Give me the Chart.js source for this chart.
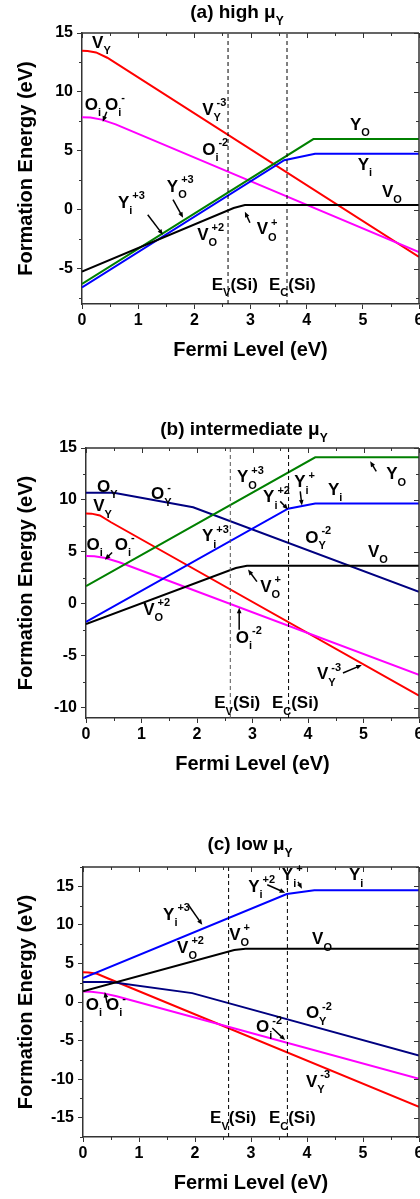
<!DOCTYPE html>
<html lang="en">
<head>
<meta charset="UTF-8">
<title>Formation energy vs Fermi level</title>
<script src="https://cdn.jsdelivr.net/npm/chart.js@4"></script>
<style>
  body { margin: 0; background: #fff; }
  #wrap { position: relative; width: 420px; height: 1199px; overflow: hidden; }
  canvas { position: absolute; left: 0; }
</style>
</head>
<body>
<div id="wrap">
  <canvas id="panelA" width="420" height="380" style="top:0px"></canvas>
  <canvas id="panelB" width="420" height="400" style="top:380px"></canvas>
  <canvas id="panelC" width="420" height="419" style="top:780px"></canvas>
</div>
<script>
// ---- data (Fermi level in eV, formation energy in eV) ----
const fermiTicks = [0, 1, 2, 3, 4, 5, 6];
const bandEdges = [2.6, 3.65];   // E_V(Si), E_C(Si)

// (a) high mu_Y
const highTicks = [-5, 0, 5, 10, 15];
const highVY = [[0, 13.5], [0.1, 13.48], [0.25, 13.35], [0.45, 12.9], [6, -4.0]];
const highOi = [[0, 7.85], [0.15, 7.82], [0.35, 7.65], [0.6, 7.25], [6, -3.6]];
const highYO = [[0, -6.3], [4.12, 6.0], [6, 6.0]];
const highYi = [[0, -6.6], [3.6, 4.2], [4.15, 4.75], [6, 4.75]];
const highVO = [[0, -5.25], [2.7, 0.15], [2.9, 0.4], [6, 0.4]];

// (b) intermediate mu_Y
const midTicks = [-10, -5, 0, 5, 10, 15];
const midOY = [[0, 10.7], [0.5, 10.7], [1.93, 9.3], [6, 1.15]];
const midVY = [[0, 8.7], [0.1, 8.68], [0.25, 8.5], [0.45, 7.85], [6, -8.85]];
const midOi = [[0, 4.6], [0.15, 4.57], [0.35, 4.4], [0.6, 4.0], [6, -6.85]];
const midYO = [[0, 1.7], [4.13, 14.1], [6, 14.1]];
const midYi = [[0, -1.75], [3.64, 9.15], [4.13, 9.65], [6, 9.65]];
const midVO = [[0, -1.95], [2.7, 3.45], [2.9, 3.67], [6, 3.67]];

// (c) low mu_Y
const lowTicks = [-15, -10, -5, 0, 5, 10, 15];
const lowYi = [[0, 3.1], [3.64, 14.0], [4.13, 14.5], [6, 14.5]];
const lowVO = [[0, 1.4], [2.7, 6.75], [2.9, 6.9], [6, 6.9]];
const lowVY = [[0, 3.85], [0.1, 3.83], [0.25, 3.65], [0.45, 3.05], [6, -13.6]];
const lowOY = [[0, 2.6], [0.5, 2.6], [1.95, 1.15], [6, -6.95]];
const lowOi = [[0, 1.35], [0.15, 1.32], [0.35, 1.15], [0.6, 0.75], [6, -9.95]];

// ---- annotations: [text, x, y] and arrows [x1, y1, x2, y2] in data units ----
const highLabels = [
  ['V_{Y}', 0.18, 13.73], ['O_{i}', 0.05, 8.47], ['O_{i}^{-}', 0.41, 8.47],
  ['V_{Y}^{-3}', 2.14, 8.05], ['O_{i}^{-2}', 2.14, 4.66], ['Y_{O}', 4.77, 6.78],
  ['Y_{i}', 4.91, 3.39], ['V_{O}', 5.34, 1.1], ['Y_{O}^{+3}', 1.51, 1.53],
  ['Y_{i}^{+3}', 0.64, 0.17], ['V_{O}^{+2}', 2.05, -2.54], ['V_{O}^{+}', 3.11, -2.1],
  ['E_{V}(Si)', 2.31, -6.78], ['E_{C}(Si)', 3.33, -6.78]
];
const highArrows = [
  [0.44, 8.31, 0.37, 7.46], [1.62, 0.85, 1.80, -0.68],
  [1.17, -0.42, 1.44, -2.12], [2.99, -1.10, 2.90, -0.17]
];
const midLabels = [
  ['O_{Y}', 0.2, 10.8], ['O_{Y}^{-}', 1.17, 10.05], ['V_{Y}', 0.13, 8.9],
  ['O_{i}', 0.01, 5.2], ['O_{i}^{-}', 0.52, 5.2], ['Y_{O}^{+3}', 2.72, 11.7],
  ['Y_{i}^{+3}', 2.09, 6.0], ['Y_{i}^{+2}', 3.19, 9.76], ['Y_{i}^{+}', 3.75, 11.2],
  ['Y_{i}', 4.36, 10.5], ['Y_{O}', 5.41, 12.0], ['O_{Y}^{-2}', 3.95, 5.9],
  ['V_{O}', 5.08, 4.55], ['V_{O}^{+}', 3.14, 1.16], ['V_{O}^{+2}', 1.03, -1.06],
  ['O_{i}^{-2}', 2.7, -3.77], ['V_{Y}^{-3}', 4.16, -7.25],
  ['E_{V}(Si)', 2.31, -10.05], ['E_{C}(Si)', 3.35, -10.05]
];
const midArrows = [
  [0.47, 4.93, 0.34, 4.25], [3.50, 9.86, 3.64, 9.08], [3.86, 10.82, 3.89, 9.47],
  [5.23, 12.75, 5.12, 13.72], [3.08, 2.13, 2.92, 3.29], [2.76, -2.51, 2.76, -0.39],
  [4.63, -6.67, 4.97, -5.89]
];
const lowLabels = [
  ['Y_{i}^{+3}', 1.43, 10.65], ['V_{O}^{+2}', 1.68, 6.36], ['V_{O}^{+}', 2.61, 8.05],
  ['Y_{i}^{+2}', 2.95, 14.3], ['Y_{i}^{+}', 3.55, 15.8], ['Y_{i}', 4.75, 15.8],
  ['V_{O}', 4.09, 7.5], ['O_{i}', 0.05, -1.04], ['O_{i}^{-}', 0.41, -1.04],
  ['O_{Y}^{-2}', 3.98, -2.1], ['O_{i}^{-2}', 3.09, -3.9], ['V_{Y}^{-3}', 3.98, -11.0],
  ['E_{V}(Si)', 2.27, -15.7], ['E_{C}(Si)', 3.32, -15.7]
];
const lowArrows = [
  [1.88, 12.6, 2.13, 10.0], [3.29, 15.2, 3.61, 14.16], [3.84, 15.58, 3.91, 14.68],
  [0.43, -0.13, 0.39, 1.30], [3.38, -3.38, 3.61, -4.94]
];

// ---- drawing helpers ----
const FONT = '"Liberation Sans", Arial, Helvetica, sans-serif';
const AXIS = '#333';
const RED = '#ff0000', MAGENTA = '#ff00ff', GREEN = '#008000', BLUE = '#0000ff', NAVY = '#000080', BLACK = '#000000';

function richParts(str) {
  const parts = [];
  const re = /([_^])\{([^}]*)\}|([^_^]+)/g;
  let m;
  while ((m = re.exec(str))) {
    if (m[3] !== undefined) parts.push({ t: m[3], mode: 'n' });
    else parts.push({ t: m[2], mode: m[1] === '_' ? 'sub' : 'sup' });
  }
  return parts;
}

// draws text with _{sub} and ^{sup}; returns width
function richText(ctx, str, x, y, size, draw) {
  let cx = x, gStart = null, gEnd = x;
  for (const pt of richParts(str)) {
    if (pt.mode === 'n') {
      cx = Math.max(cx, gEnd);
      gStart = null;
      ctx.font = `bold ${size}px ${FONT}`;
      if (draw) ctx.fillText(pt.t, cx, y);
      cx += ctx.measureText(pt.t).width;
      gEnd = cx;
    } else {
      const s = Math.round(size * 0.62);
      if (gStart === null) gStart = cx;
      const sx = gStart + (pt.mode === 'sup' ? 3 : 0);
      const sy = y + (pt.mode === 'sup' ? -size * 0.5 : size * 0.38);
      ctx.font = `bold ${s}px ${FONT}`;
      if (draw) ctx.fillText(pt.t, sx, sy);
      gEnd = Math.max(gEnd, sx + ctx.measureText(pt.t).width);
    }
  }
  return Math.max(cx, gEnd) - x;
}

function arrow(ctx, x1, y1, x2, y2) {
  const a = Math.atan2(y2 - y1, x2 - x1), h = 6;
  ctx.beginPath();
  ctx.moveTo(x1, y1);
  ctx.lineTo(x2 - Math.cos(a) * h * 0.8, y2 - Math.sin(a) * h * 0.8);
  ctx.stroke();
  ctx.beginPath();
  ctx.moveTo(x2, y2);
  ctx.lineTo(x2 - h * Math.cos(a - 0.4), y2 - h * Math.sin(a - 0.4));
  ctx.lineTo(x2 - h * Math.cos(a + 0.4), y2 - h * Math.sin(a + 0.4));
  ctx.closePath();
  ctx.fill();
}

const decor = {
  id: 'decor',
  afterDraw(chart, args, o) {
    const ctx = chart.ctx, ca = chart.chartArea;
    const xs = chart.scales.x, ys = chart.scales.y;
    ctx.save();

    // top and right frame with inward ticks, minor ticks elsewhere
    ctx.strokeStyle = AXIS;
    ctx.lineWidth = 1.5;
    ctx.beginPath();
    ctx.moveTo(ca.left, ca.top); ctx.lineTo(ca.right, ca.top);
    ctx.moveTo(ca.right, ca.top); ctx.lineTo(ca.right, ca.bottom);
    ctx.stroke();
    ctx.lineWidth = 1;
    ctx.beginPath();
    for (let k = 0; k <= 12; k++) {
      const v = k / 2, px = Math.round(xs.getPixelForValue(v)) + 0.5;
      const major = k % 2 === 0;
      ctx.moveTo(px, ca.top); ctx.lineTo(px, ca.top + (major ? 5 : 3));
      if (!major) { ctx.moveTo(px, ca.bottom); ctx.lineTo(px, ca.bottom + 3); }
    }
    for (let k = Math.ceil(o.ymin / o.minor); k <= Math.floor(o.ymax / o.minor); k++) {
      const v = k * o.minor, py = Math.round(ys.getPixelForValue(v)) + 0.5;
      const major = o.yTicks.includes(v);
      ctx.moveTo(ca.right, py); ctx.lineTo(ca.right - (major ? 5 : 3), py);
      if (!major) { ctx.moveTo(ca.left, py); ctx.lineTo(ca.left - 3, py); }
    }
    ctx.stroke();

    ctx.fillStyle = '#000';
    ctx.textBaseline = 'alphabetic';
    ctx.textAlign = 'left';

    // panel title
    const tw = richText(ctx, o.title, 0, 0, 19, false);
    richText(ctx, o.title, o.titleX - tw / 2, o.titleY, 19, true);

    // axis titles
    ctx.font = `bold 20px ${FONT}`;
    ctx.textAlign = 'center';
    ctx.fillText('Fermi Level (eV)', (ca.left + ca.right) / 2, ca.bottom + 52);
    ctx.save();
    ctx.translate(32, (ca.top + ca.bottom) / 2);
    ctx.rotate(-Math.PI / 2);
    ctx.fillText('Formation Energy (eV)', 0, 0);
    ctx.restore();
    ctx.textAlign = 'left';

    // curve labels
    for (const [t, x, y] of o.labels) {
      richText(ctx, t, xs.getPixelForValue(x), ys.getPixelForValue(y), 17, true);
    }
    ctx.strokeStyle = '#000';
    ctx.lineWidth = 1.5;
    for (const [x1, y1, x2, y2] of o.arrows) {
      arrow(ctx, xs.getPixelForValue(x1), ys.getPixelForValue(y1),
                 xs.getPixelForValue(x2), ys.getPixelForValue(y2));
    }
    ctx.restore();
  }
};

function line(pts, color) {
  return { data: pts.map(([x, y]) => ({ x, y })), borderColor: color, borderWidth: 2,
           pointRadius: 0, tension: 0, fill: false };
}

function makePanel(id, p) {
  const edges = bandEdges.map((e, i) => ({
    data: [{ x: e, y: p.ymin }, { x: e, y: p.ymax }],
    borderColor: p.edgeColors[i], borderWidth: 1, borderDash: [4, 3], pointRadius: 0
  }));
  new Chart(document.getElementById(id), {
    type: 'line',
    data: { datasets: edges.concat(p.series.map(s => line(s[0], s[1]))) },
    options: {
      responsive: false,
      animation: false,
      events: [],
      layout: { padding: { top: p.top, left: 0, right: 1, bottom: p.bottom } },
      plugins: {
        legend: { display: false },
        tooltip: { enabled: false },
        decor: {
          ymin: p.ymin, ymax: p.ymax, minor: p.minor, yTicks: p.yTicks,
          title: p.title, titleX: p.titleX, titleY: p.titleY,
          labels: p.labels, arrows: p.arrows
        }
      },
      scales: {
        x: {
          type: 'linear', min: 0, max: 6,
          afterBuildTicks: s => { s.ticks = fermiTicks.map(v => ({ value: v })); },
          afterFit: s => { s.height = 30; s.paddingLeft = 0; s.paddingRight = 0; },
          grid: { drawOnChartArea: false, tickLength: 5, color: AXIS, lineWidth: 1 },
          border: { color: AXIS, width: 1.5 },
          ticks: { font: { family: FONT, size: 16, weight: 'bold' }, color: '#000',
                   padding: 2, maxRotation: 0, autoSkip: false }
        },
        y: {
          type: 'linear', min: p.ymin, max: p.ymax,
          afterBuildTicks: s => { s.ticks = p.yTicks.map(v => ({ value: v })); },
          afterFit: s => { s.width = p.left; s.paddingTop = 0; s.paddingBottom = 0; },
          grid: { drawOnChartArea: false, tickLength: 5, color: AXIS, lineWidth: 1 },
          border: { color: AXIS, width: 1.5 },
          ticks: { font: { family: FONT, size: 16, weight: 'bold' }, color: '#000',
                   padding: 4, autoSkip: false }
        }
      }
    },
    plugins: [decor]
  });
}

makePanel('panelA', {
  ymin: -8, ymax: 15, minor: 2.5, yTicks: highTicks, left: 82, top: 33, bottom: 46,
  title: '(a) high μ_{Y}', titleX: 237, titleY: 18,
  edgeColors: [BLACK, BLACK],
  series: [[highVO, BLACK], [highYO, GREEN], [highYi, BLUE], [highOi, MAGENTA], [highVY, RED]],
  labels: highLabels, arrows: highArrows
});

makePanel('panelB', {
  ymin: -11, ymax: 15, minor: 2.5, yTicks: midTicks, left: 86, top: 68, bottom: 32,
  title: '(b) intermediate μ_{Y}', titleX: 244, titleY: 55,
  edgeColors: ['#555', BLACK],
  series: [[midVO, BLACK], [midYO, GREEN], [midYi, BLUE], [midOY, NAVY], [midOi, MAGENTA], [midVY, RED]],
  labels: midLabels, arrows: midArrows
});

makePanel('panelC', {
  ymin: -17.5, ymax: 17.5, minor: 2.5, yTicks: lowTicks, left: 83, top: 87, bottom: 32,
  title: '(c) low μ_{Y}', titleX: 250, titleY: 70,
  edgeColors: [BLACK, BLACK],
  series: [[lowVO, BLACK], [lowYi, BLUE], [lowOY, NAVY], [lowOi, MAGENTA], [lowVY, RED]],
  labels: lowLabels, arrows: lowArrows
});
</script>
</body>
</html>
